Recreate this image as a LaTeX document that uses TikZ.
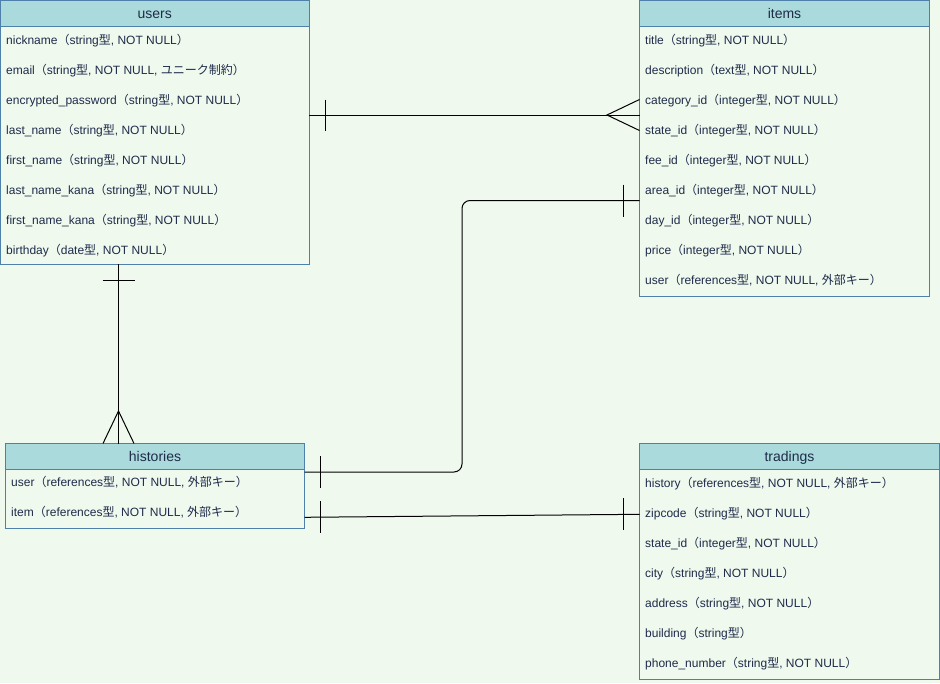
\documentclass[tikz,border=0pt]{standalone}
\usepackage{fontspec}
\setmainfont{Liberation Sans}
\newfontfamily\cjkfont{Noto Sans CJK JP}
% Japanese glyphs come from the CJK family
\newcommand\J[1]{{\cjkfont #1}}
\newcommand\LP{\J{（}}
\newcommand\RP{\J{）}}
\newcommand\KATA{\J{型}}
\newcommand\FK{\J{外部キー}}

\definecolor{canvas}{HTML}{F0F9EE}
\definecolor{headfill}{HTML}{AADADC}
\definecolor{frame}{HTML}{4E80AA}
\definecolor{ink}{HTML}{1E2B4A}

\tikzset{
  tablehead/.style={draw=frame, fill=headfill, line width=1pt, anchor=north west,
    inner sep=0pt, outer sep=0pt, text=ink, font=\fontsize{14}{16}\selectfont,
    text height=12pt, text depth=2.4pt},
  tablebody/.style={draw=frame, fill=canvas, line width=1pt, anchor=north west,
    inner sep=0pt, outer sep=0pt},
  field/.style={anchor=west, inner sep=0pt, text=ink, font=\fontsize{12}{14}\selectfont,
    text height=10pt, text depth=2pt},
  rel/.style={draw=black, line width=1pt},
}

\begin{document}
\begin{tikzpicture}[x=1pt, y=-1pt]
\useasboundingbox (0,0) rectangle (940,683);
\fill[canvas] (0,0) rectangle (940,683);

% ---------- users ----------
\node[tablehead, minimum width=308.5pt, minimum height=26pt] (usershead) at (0.5,0.5) {users};
\node[tablebody, minimum width=308.5pt, minimum height=237.5pt] (usersbody) at (0.5,26.5) {};
\node[field] (u1) at (6,40)  {nickname\LP string\KATA, NOT NULL\RP};
\node[field] (u2) at (6,70)  {email\LP string\KATA, NOT NULL, \J{ユニーク制約}\RP};
\node[field] (u3) at (6,100) {encrypted\_password\LP string\KATA, NOT NULL\RP};
\node[field] (u4) at (6,130) {last\_name\LP string\KATA, NOT NULL\RP};
\node[field] (u5) at (6,160) {first\_name\LP string\KATA, NOT NULL\RP};
\node[field] (u6) at (6,190) {last\_name\_kana\LP string\KATA, NOT NULL\RP};
\node[field] (u7) at (6,220) {first\_name\_kana\LP string\KATA, NOT NULL\RP};
\node[field] (u8) at (6,250) {birthday\LP date\KATA, NOT NULL\RP};

% ---------- items ----------
\node[tablehead, minimum width=290pt, minimum height=26pt] (itemshead) at (639.5,0.5) {items};
\node[tablebody, minimum width=290pt, minimum height=269.5pt] (itemsbody) at (639.5,26.5) {};
\node[field] (i1) at (645,40)  {title\LP string\KATA, NOT NULL\RP};
\node[field] (i2) at (645,70)  {description\LP text\KATA, NOT NULL\RP};
\node[field] (i3) at (645,100) {category\_id\LP integer\KATA, NOT NULL\RP};
\node[field] (i4) at (645,130) {state\_id\LP integer\KATA, NOT NULL\RP};
\node[field] (i5) at (645,160) {fee\_id\LP integer\KATA, NOT NULL\RP};
\node[field] (i6) at (645,190) {area\_id\LP integer\KATA, NOT NULL\RP};
\node[field] (i7) at (645,220) {day\_id\LP integer\KATA, NOT NULL\RP};
\node[field] (i8) at (645,250) {price\LP integer\KATA, NOT NULL\RP};
\node[field] (i9) at (645,280) {user\LP references\KATA, NOT NULL, \FK\RP};

% ---------- histories ----------
\node[tablehead, minimum width=299pt, minimum height=26pt] (histhead) at (5.5,443.5) {histories};
\node[tablebody, minimum width=299pt, minimum height=59pt] (histbody) at (5.5,469.5) {};
\node[field] (h1) at (11,482) {user\LP references\KATA, NOT NULL, \FK\RP};
\node[field] (h2) at (11,512) {item\LP references\KATA, NOT NULL, \FK\RP};

% ---------- tradings ----------
\node[tablehead, minimum width=300pt, minimum height=26pt] (tradhead) at (639.5,443.5) {tradings};
\node[tablebody, minimum width=300pt, minimum height=210pt] (tradbody) at (639.5,469.5) {};
\node[field] (t1) at (645,483) {history\LP references\KATA, NOT NULL, \FK\RP};
\node[field] (t2) at (645,513) {zipcode\LP string\KATA, NOT NULL\RP};
\node[field] (t3) at (645,543) {state\_id\LP integer\KATA, NOT NULL\RP};
\node[field] (t4) at (645,573) {city\LP string\KATA, NOT NULL\RP};
\node[field] (t5) at (645,603) {address\LP string\KATA, NOT NULL\RP};
\node[field] (t6) at (645,633) {building\LP string\KATA\RP};
\node[field] (t7) at (645,663) {phone\_number\LP string\KATA, NOT NULL\RP};

% ---------- relation ends ----------
\coordinate (uiS) at (usersbody.east |- 0,115);
\coordinate (uiT) at (itemsbody.west |- 0,115);
\coordinate (uhS) at (usersbody.south -| 118.5,0);
\coordinate (uhT) at (histhead.north -| 118.5,0);
\coordinate (hiS) at (histbody.east |- 0,472);
\coordinate (hiT) at (itemsbody.west |- 0,200.5);
\coordinate (hiM) at (462,336);
\coordinate (htS) at (histbody.east |- 0,517.3);
\coordinate (htT) at (tradbody.west |- 0,514.3);

% users 1 -- many items
\draw[rel] (uiS) -- (uiT);
\draw[rel] (uiS) ++(16,-15.5) -- ++(0,31);
\draw[rel] (uiT) ++(0,-15.5) -- ++(-32.5,15.5) -- ++(32.5,15.5);

% users 1 -- many histories
\draw[rel] (uhS) -- (uhT);
\draw[rel] (uhS) ++(-16,16) -- ++(32,0);
\draw[rel] (uhT) ++(-15.5,0) -- ++(15.5,-32.5) -- ++(15.5,32.5);

% histories 1 -- 1 items
\draw[rel, rounded corners=8pt] (hiS) -| (hiM) |- (hiT);
\draw[rel] (hiS) ++(16,-16) -- ++(0,32);
\draw[rel] (hiT) ++(-16,-16) -- ++(0,32);

% histories 1 -- 1 tradings
\draw[rel] (htS) -- (htT);
\draw[rel] (htS) ++(16,-16) -- ++(0,32);
\draw[rel] (htT) ++(-16,-16) -- ++(0,32);
\end{tikzpicture}
\end{document}
